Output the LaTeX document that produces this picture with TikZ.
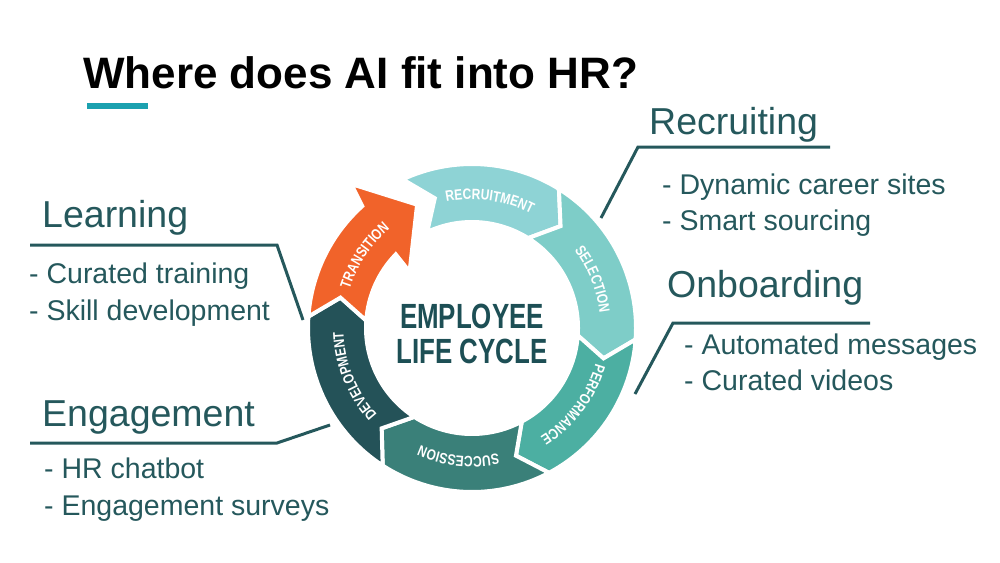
\documentclass[tikz,border=0pt]{standalone}
\usepackage{fontspec}
\setmainfont{Liberation Sans}
\newfontfamily\condfont[FakeStretch=0.74]{Liberation Sans}
\newfontfamily\segfont[FakeStretch=0.8]{Liberation Sans}
\usetikzlibrary{decorations.text}
\definecolor{txt}{HTML}{25585C}
\definecolor{titlebar}{HTML}{1BA1AF}
\definecolor{recruit}{HTML}{8ED3D5}
\definecolor{select}{HTML}{7ECDC8}
\definecolor{perform}{HTML}{4CAFA2}
\definecolor{success}{HTML}{3A8079}
\definecolor{develop}{HTML}{245258}
\definecolor{trans}{HTML}{F1632A}
\definecolor{centertxt}{HTML}{1D4F55}
\newcommand\Rout{164}
\newcommand\Rin{106}
\newcommand\Rmid{135}
\newcommand\chev{9}
\newcommand\ringseg[3]{%
  \fill[#1,draw=white,line width=4] (#2:\Rout) arc[start angle=#2,end angle=#3,radius=\Rout]
    -- ({#3-\chev}:\Rmid) -- (#3:\Rin) arc[start angle=#3,end angle=#2,radius=\Rin]
    -- ({#2-\chev}:\Rmid) -- cycle;}
\newcommand\segtext[3]{%
  \path[decorate,decoration={text along path,text={|\segfont\bfseries\fontsize{15}{15}\selectfont\color{white}|#1},text align=center}]
    (#2:128.5) arc[start angle=#2,end angle=#3,radius=128.5];}
\tikzset{
  heading/.style={anchor=base west,inner sep=0,text=txt,font=\fontsize{37.5}{37.5}\selectfont},
  item/.style={anchor=base west,inner sep=0,text=txt,font=\fontsize{28.5}{28.5}\selectfont},
  leader/.style={draw=txt,line width=3},
  centerlbl/.style={anchor=base,inner sep=0,text=centertxt,font=\condfont\bfseries\fontsize{35}{35}\selectfont}
}
\begin{document}
\begin{tikzpicture}[x=1pt,y=1pt]
\useasboundingbox[fill=white] (0,0) rectangle (1000,-562);

% title
\node[anchor=base west,inner sep=0,font=\bfseries\fontsize{44}{44}\selectfont,text=black] (title) at (83,-88) {Where does AI fit into HR?};
\fill[titlebar] (87,-103) rectangle (148,-109);

% ring
\begin{scope}[shift={(472,-328)}]
  \ringseg{recruit}{115}{58}
  \ringseg{select}{58}{-4}
  \ringseg{perform}{-4}{-62}
  \ringseg{success}{-62}{-123}
  \ringseg{develop}{-123}{-184}
  \fill[trans,draw=white,line width=4] (176:\Rout) arc[start angle=176,end angle=132,radius=\Rout]
    -- (130:188) -- (114:135) -- (138:84) -- (136:\Rin)
    arc[start angle=136,end angle=176,radius=\Rin] -- (167:\Rmid) -- cycle;
  \segtext{RECRUITMENT}{108}{56}
  \segtext{SELECTION}{48}{-4}
  \segtext{PERFORMANCE}{-11}{-63}
  \segtext{SUCCESSION}{-70}{-122}
  \segtext{DEVELOPMENT}{-132}{-184}
  \segtext{TRANSITION}{172}{120}
\end{scope}
\node[centerlbl] (c1) at (472,-328.5) {EMPLOYEE};
\node[centerlbl] (c2) at (472,-363.5) {LIFE CYCLE};

% Recruiting
\node[heading] (hrec) at (649,-134) {Recruiting};
\node[item] (rec1) at (662,-194) {- Dynamic career sites};
\node[item] (rec2) at (662,-230) {- Smart sourcing};
\coordinate (recA) at (638,-147);
\coordinate (recB) at (830,-147);
\coordinate (recC) at (601,-218);
\draw[leader] (recB) -- (recA) -- (recC);

% Onboarding
\node[heading] (hon) at (667,-297) {Onboarding};
\node[item] (on1) at (684,-354) {- Automated messages};
\node[item] (on2) at (684,-390) {- Curated videos};
\coordinate (onA) at (673,-323);
\coordinate (onB) at (870,-323);
\coordinate (onC) at (635,-394);
\draw[leader] (onB) -- (onA) -- (onC);

% Learning
\node[heading] (hlearn) at (42,-227) {Learning};
\node[item] (l1) at (29,-283) {- Curated training};
\node[item] (l2) at (29,-320) {- Skill development};
\coordinate (lA) at (30,-245);
\coordinate (lB) at (277,-245);
\coordinate (lC) at (303,-320);
\draw[leader] (lA) -- (lB) -- (lC);

% Engagement
\node[heading] (heng) at (42,-426) {Engagement};
\node[item] (e1) at (44,-478) {- HR chatbot};
\node[item] (e2) at (44,-515) {- Engagement surveys};
\coordinate (eA) at (30,-443);
\coordinate (eB) at (277,-443);
\coordinate (eC) at (330,-425);
\draw[leader] (eA) -- (eB) -- (eC);
\end{tikzpicture}
\end{document}
